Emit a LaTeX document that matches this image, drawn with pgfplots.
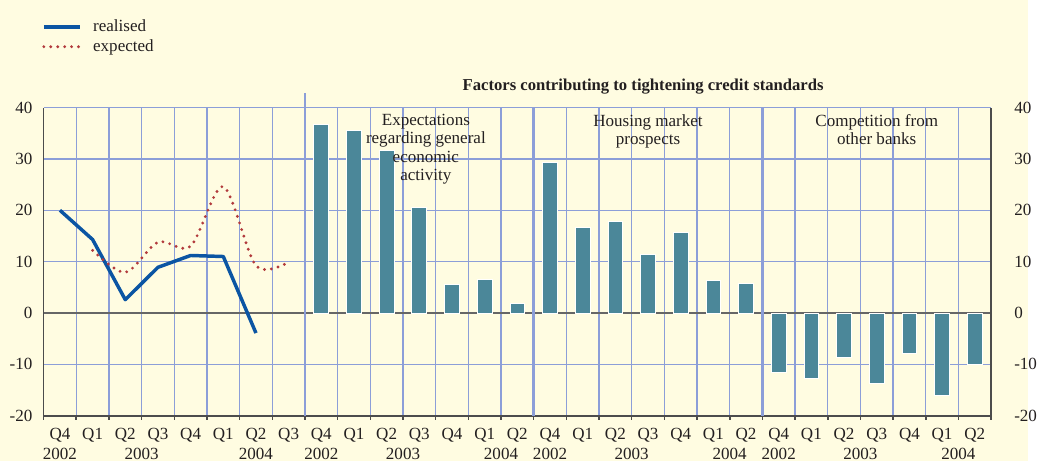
\documentclass[border=0pt]{standalone}
\usepackage{fontspec}
\setmainfont{Liberation Serif}
\usepackage{pgfplots}
\pgfplotsset{compat=1.18}

\definecolor{bg}{HTML}{FFFCE1}
\definecolor{gridc}{HTML}{8C9ED8}
\definecolor{barc}{HTML}{4B8799}
\definecolor{realc}{HTML}{0B55A3}
\definecolor{expc}{HTML}{B23A3C}
\definecolor{txt}{HTML}{231F20}
\newcommand\ff{\fontsize{8.6bp}{9.2bp}\selectfont}

\begin{document}
\begin{tikzpicture}
\fill[bg] (-22bp,-22.75bp) rectangle (496.5bp,209.75bp);
\begin{axis}[
  at={(0,0)}, anchor=south west,
  scale only axis, width=478bp, height=155.5bp,
  xmin=0, xmax=29, ymin=-20, ymax=40,
  clip=false,
  axis x line*=bottom, axis y line*=left,
  axis line style={-, draw=black!70, line width=0.8bp},
  xtick={0,...,29},
  x tick label as interval,
  xticklabels={Q4,Q1,Q2,Q3,Q4,Q1,Q2,Q3,Q4,Q1,Q2,Q3,Q4,Q1,Q2,Q4,Q1,Q2,Q3,Q4,Q1,Q2,Q4,Q1,Q2,Q3,Q4,Q1,Q2},
  ytick={-20,-10,...,40},
  grid=major,
  grid style={gridc, line width=0.7bp},
  tick align=outside,
  major tick length=2bp,
  xtick style={draw=black!70, line width=0.8bp},
  ytick style={draw=none},
  extra y ticks={0},
  extra y tick labels={},
  extra y tick style={major tick length=0pt, grid style={black!60, line width=1bp}},
  xticklabel style={font=\ff, text=txt, anchor=north, inner sep=0pt, yshift=-4.3bp},
  yticklabel style={font=\ff, text=txt, anchor=east, inner sep=0pt, xshift=-3.5bp},
  /pgf/number format/assume math mode=true,
  legend style={at={(-0.002,1.295)}, anchor=north west, draw=none, fill=none, font=\ff, text=txt,
    inner sep=0pt, row sep=0bp, column sep=5bp, nodes={inner sep=1bp, text height=6.2bp, text depth=1.8bp}},
  legend cell align=left,
  legend image code/.code={\draw[#1] (0bp,0bp) -- (18bp,0bp);},
]
\addplot[ybar, bar width=0.45, fill=barc, draw=white, line width=0.5bp, forget plot] coordinates {
 (8.5,36.7) (9.5,35.5) (10.5,31.7) (11.5,20.5) (12.5,5.6) (13.5,6.6) (14.5,1.8)
 (15.5,29.3) (16.5,16.7) (17.5,17.9) (18.5,11.4) (19.5,15.7) (20.5,6.3) (21.5,5.7)
 (22.5,-11.5) (23.5,-12.7) (24.5,-8.7) (25.5,-13.8) (26.5,-7.8) (27.5,-16.0) (28.5,-10.0)
};
\addplot[realc, line width=1.75bp, line join=round] coordinates {
 (0.5,20.0) (1.5,14.3) (2.5,2.6) (3.5,8.9) (4.5,11.2) (5.5,11.0) (6.5,-3.9)
};
\addlegendentry{realised}
\addplot[expc, line width=1.6bp, line cap=round, dash pattern=on 0bp off 3.5bp, smooth] coordinates {
 (1.5,12.2) (2.5,7.9) (3.5,13.8) (4.5,13.0) (5.5,24.6) (6.5,9.2) (7.5,9.9)
};
\addlegendentry{expected}

\draw[gridc, line width=1.4bp] (axis cs:8,-20) -- ([yshift=7.5bp]axis cs:8,40);
\draw[gridc, line width=1.4bp] (axis cs:15,-20) -- (axis cs:15,40);
\draw[gridc, line width=1.4bp] (axis cs:22,-20) -- (axis cs:22,40);

\node[font=\fontsize{8.4bp}{9bp}\selectfont\bfseries, text=txt] at (axis cs:18.35,44.0) {Factors contributing to tightening credit standards};
\node[font=\ff, text=txt, align=center, anchor=north, inner sep=0pt] at (axis cs:11.7,40) [yshift=-3.25bp] {Expectations\\regarding general\\economic\\activity};
\node[font=\ff, text=txt, align=center, anchor=north, inner sep=0pt] at (axis cs:18.5,40) [yshift=-3.25bp] {Housing market\\prospects};
\node[font=\ff, text=txt, align=center, anchor=north, inner sep=0pt] at (axis cs:25.5,40) [yshift=-3.25bp] {Competition from\\other banks};

\node[font=\ff, text=txt, anchor=north, inner sep=0pt] at (axis cs:0.5,-20) [yshift=-16.25bp] {2002};
\node[font=\ff, text=txt, anchor=north, inner sep=0pt] at (axis cs:3,-20) [yshift=-16.25bp] {2003};
\node[font=\ff, text=txt, anchor=north, inner sep=0pt] at (axis cs:6.5,-20) [yshift=-16.25bp] {2004};
\node[font=\ff, text=txt, anchor=north, inner sep=0pt] at (axis cs:8.5,-20) [yshift=-16.25bp] {2002};
\node[font=\ff, text=txt, anchor=north, inner sep=0pt] at (axis cs:11,-20) [yshift=-16.25bp] {2003};
\node[font=\ff, text=txt, anchor=north, inner sep=0pt] at (axis cs:14,-20) [yshift=-16.25bp] {2004};
\node[font=\ff, text=txt, anchor=north, inner sep=0pt] at (axis cs:15.5,-20) [yshift=-16.25bp] {2002};
\node[font=\ff, text=txt, anchor=north, inner sep=0pt] at (axis cs:18,-20) [yshift=-16.25bp] {2003};
\node[font=\ff, text=txt, anchor=north, inner sep=0pt] at (axis cs:21,-20) [yshift=-16.25bp] {2004};
\node[font=\ff, text=txt, anchor=north, inner sep=0pt] at (axis cs:22.5,-20) [yshift=-16.25bp] {2002};
\node[font=\ff, text=txt, anchor=north, inner sep=0pt] at (axis cs:25,-20) [yshift=-16.25bp] {2003};
\node[font=\ff, text=txt, anchor=north, inner sep=0pt] at (axis cs:28,-20) [yshift=-16.25bp] {2004};
\end{axis}
\begin{axis}[
  at={(0,0)}, anchor=south west,
  scale only axis, width=478bp, height=155.5bp,
  xmin=0, xmax=29, ymin=-20, ymax=40,
  axis x line=none, axis y line*=right,
  axis line style={-, draw=black!70, line width=0.8bp},
  ytick={-20,-10,...,40},
  ytick style={draw=none},
  yticklabel style={font=\ff, text=txt, anchor=west, inner sep=0pt, xshift=11.5bp},
  /pgf/number format/assume math mode=true,
]
\addplot[draw=none, forget plot] coordinates {(0,0)};
\end{axis}
\end{tikzpicture}
\end{document}
